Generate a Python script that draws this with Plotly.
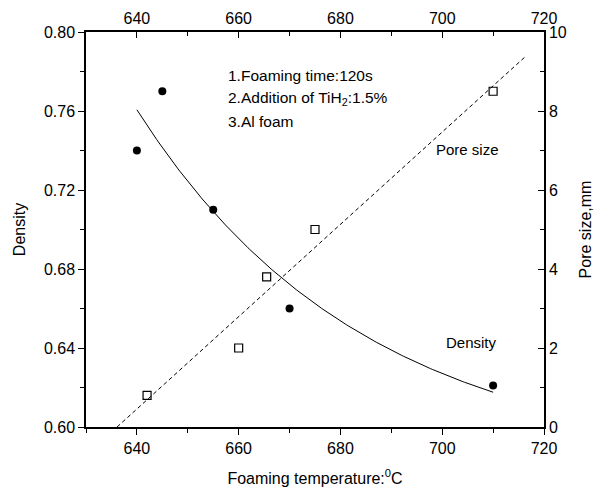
import numpy as np
import plotly.graph_objects as go

# Data
density_temp = [640, 645, 655, 670, 710]
density_vals = [0.740, 0.770, 0.710, 0.660, 0.621]
pore_temp = [642, 660, 665.5, 675, 710]
pore_vals = [0.8, 2.0, 3.8, 5.0, 8.5]
notes = ["1.Foaming time:120s", "2.Addition of TiH<sub>2</sub>:1.5%", "3.Al foam"]

# Exponential decay fit for density: y = y0 + A*exp(-x/t)
xd = np.array(density_temp, dtype=float)
yd = np.array(density_vals, dtype=float)
best = None
for t in np.linspace(5, 300, 3000):
    M = np.column_stack([np.ones_like(xd), np.exp(-(xd - 640) / t)])
    coef, *_ = np.linalg.lstsq(M, yd, rcond=None)
    err = np.sum((M @ coef - yd) ** 2)
    if best is None or err < best[0]:
        best = (err, t, coef)
_, tb, cb = best
xc = np.linspace(min(density_temp), max(density_temp), 200)
yc = cb[0] + cb[1] * np.exp(-(xc - 640) / tb)

# Linear fit for pore size
k, b = np.polyfit(pore_temp, pore_vals, 1)
xl = np.array([-b / k, (9.37 - b) / k])
yl = k * xl + b

fig = go.Figure()
fig.add_trace(go.Scatter(x=xc, y=yc, mode="lines", line=dict(color="black", width=1),
                         xaxis="x", yaxis="y", showlegend=False))
fig.add_trace(go.Scatter(x=density_temp, y=density_vals, mode="markers",
                         marker=dict(symbol="circle", size=8, color="black"),
                         xaxis="x", yaxis="y", showlegend=False))
fig.add_trace(go.Scatter(x=xl, y=yl, mode="lines", line=dict(color="black", width=1, dash="4px,3px"),
                         xaxis="x", yaxis="y2", showlegend=False))
fig.add_trace(go.Scatter(x=pore_temp, y=pore_vals, mode="markers",
                         marker=dict(symbol="square-open", size=8, color="black", line=dict(width=1.2)),
                         xaxis="x", yaxis="y2", showlegend=False))
# invisible trace to activate top axis
fig.add_trace(go.Scatter(x=[630], y=[0.7], mode="markers", marker=dict(opacity=0),
                         xaxis="x2", yaxis="y", showlegend=False, hoverinfo="skip"))

font = "Liberation Sans, Arial, Helvetica, sans-serif"
axis_common = dict(showgrid=False, zeroline=False, showline=True, linecolor="black", linewidth=1.5,
                   tickcolor="black", tickwidth=1.2, ticklen=6, automargin=False,
                   tickfont=dict(family=font, size=16, color="black"))
minor_common = dict(ticklen=4, tickcolor="black", tickwidth=1.2)

# page body has an 8px margin, so the figure is 8px smaller and margins shifted
fig.update_layout(
    width=597, height=481,
    margin=dict(l=78, r=61, t=24, b=62),
    paper_bgcolor="white", plot_bgcolor="white",
    font=dict(family=font, color="black"),
    xaxis=dict(range=[630, 720], dtick=20, tick0=640, ticks="outside",
               minor=dict(dtick=10, ticks="outside", **minor_common),
               title=dict(text="Foaming temperature:<sup>0</sup>C", font=dict(family=font, size=16), standoff=17),
               **axis_common),
    xaxis2=dict(range=[630, 720], dtick=20, tick0=640, ticks="inside", side="top", overlaying="x",
                minor=dict(dtick=10, ticks="inside", **minor_common),
                **axis_common),
    yaxis=dict(range=[0.60, 0.80], dtick=0.04, tick0=0.60, ticks="outside", tickformat=".2f",
               minor=dict(dtick=0.02, ticks="outside", **minor_common),
               title=dict(text="Density", font=dict(family=font, size=16), standoff=14),
               **axis_common),
    yaxis2=dict(range=[0, 10], dtick=2, ticks="inside", side="right", overlaying="y",
                minor=dict(dtick=1, ticks="inside", **minor_common),
                title=dict(text="Pore size,mm", font=dict(family=font, size=16), standoff=14),
                **axis_common),
)

for i, t in enumerate(notes):
    fig.add_annotation(x=657.5, y=0.7782 - i * 0.0117, xref="x", yref="y", text=t, showarrow=False,
                       xanchor="left", yanchor="middle", font=dict(family=font, size=15.5, color="black"))
fig.add_annotation(x=705, y=0.7403, xref="x", yref="y", text="Pore size", showarrow=False,
                   xanchor="center", yanchor="middle", font=dict(family=font, size=15, color="black"))
fig.add_annotation(x=705.7, y=0.643, xref="x", yref="y", text="Density", showarrow=False,
                   xanchor="center", yanchor="middle", font=dict(family=font, size=15, color="black"))

fig.write_html("out.html")
